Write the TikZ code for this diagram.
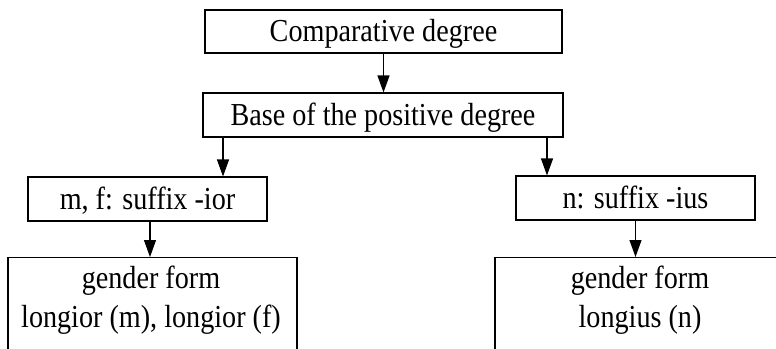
\documentclass[tikz,border=0pt]{standalone}
\usepackage{fontspec}
\setmainfont{Liberation Serif}[FakeStretch=0.88]
\usetikzlibrary{arrows.meta,calc}
\begin{document}
\begin{tikzpicture}[x=1pt,y=-1pt,
  box/.style={draw,line width=1.1pt,rectangle,inner sep=0pt,minimum height=44pt,text height=20pt,text depth=0pt,font=\fontsize{32}{39}\selectfont},
  arr/.style={line width=1.1pt,-{Triangle[length=17pt,width=12pt]}},
  txt/.style={inner sep=0pt,align=center,font=\fontsize{32}{39}\selectfont}]
\useasboundingbox (0,0) rectangle (776,348);
\clip (0,0) rectangle (776,348);
\node[box,minimum width=357pt,minimum height=43pt] (b1) at (383.5,31.5) {Comparative degree};
\node[box,minimum width=360pt] (b2) at (383,115) {Base of the positive degree};
\node[box,minimum width=239pt] (b3) at (147.5,199) {m, f: suffix -ior};
\node[box,minimum width=239pt] (b4) at (635.5,198) {n: suffix -ius};
\node[box,minimum width=289pt,minimum height=120pt,anchor=north] (b5) at (152.5,257) {};
\node[box,minimum width=290pt,minimum height=120pt,anchor=north] (b6) at (640,257) {};
\node[txt,anchor=north] (t5) at (151,266) {gender form\\longior (m), longior (f)};
\node[txt,anchor=north] (t6) at (640,266) {gender form\\longius (n)};
\draw[arr] (b1.south) -- (b1.south |- b2.north);
\draw[arr] ([xshift=-160pt]b2.south) -- ([xshift=-160pt]b2.south |- b3.north);
\draw[arr] ([xshift=164pt]b2.south) -- ([xshift=164pt]b2.south |- b4.north);
\draw[arr] ([xshift=2.5pt]b3.south) -- ([xshift=2.5pt]b3.south |- b5.north);
\draw[arr] (b4.south) -- (b4.south |- b6.north);
\end{tikzpicture}
\end{document}
